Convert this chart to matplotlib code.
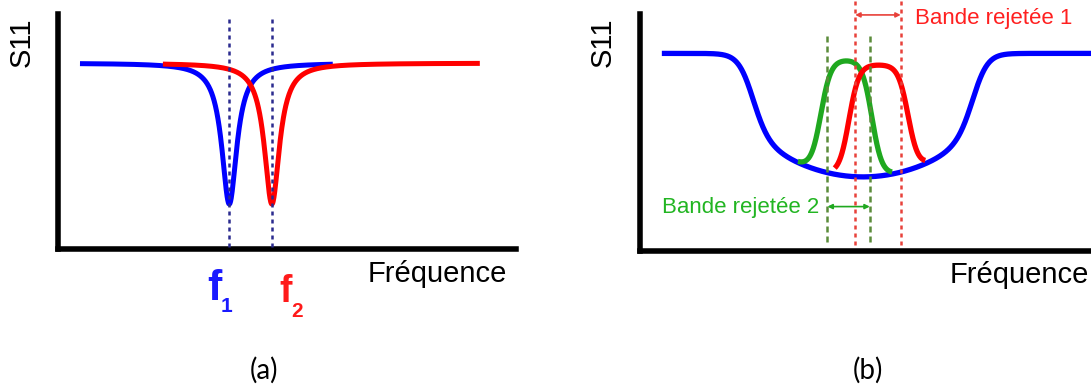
import numpy as np
import matplotlib
matplotlib.use("Agg")
import matplotlib.pyplot as plt

W, H = 1091, 387

# ---- panel (a): two resonances ----
res_freqs = [3.74, 4.67]          # f1, f2
res_spans = [(0.48, 6.0), (2.29, 9.21)]
res_colors = ["#0000ff", "#ff0000"]
res_labels = ["1", "2"]
res_level = 0.791                 # S11 off resonance
res_min = 0.191                   # S11 at resonance
res_width = 0.2

# ---- panel (b): wide band + two narrow responses ----
band_top = 0.832
band_bottom = 0.312
band_center = 4.9
band_half = 2.45
band_soft = 0.1685
band_curv = 0.0291
band_start = 0.48

notch_colors = ["#1fa81f", "#ff0000"]
notch_left = [3.97, 4.59]
notch_right = [5.10, 5.90]
notch_top = [0.806, 0.785]
notch_start = [3.47, 4.28]
notch_stop = [5.54, 6.27]
notch_soft = 0.11

band2_edges = [4.12, 5.05]        # Bande rejetee 2 (green)
band1_edges = [4.73, 5.73]        # Bande rejetee 1 (red)


def px(x, y):
    return x / W, 1 - y / H


def sig(u):
    return 1 / (1 + np.exp(-u))


def lorentz_dip(x, f0):
    return res_level - (res_level - res_min) / (1 + ((x - f0) / res_width) ** 2)


def wide_band(x):
    d = x - band_center
    s = sig((d + band_half) / band_soft) * sig((band_half - d) / band_soft)
    inner = band_bottom + band_curv * d ** 2
    return band_top * (1 - s) + inner * s


fig = plt.figure(figsize=(W / 100, H / 100), dpi=100)


def make_axes(left, top, right, bottom):
    ax = fig.add_axes([left / W, 1 - bottom / H, (right - left) / W, (bottom - top) / H])
    ax.set_xlim(0, 10)
    ax.set_ylim(0, 1)
    for side in ["top", "right"]:
        ax.spines[side].set_visible(False)
    for side in ["left", "bottom"]:
        ax.spines[side].set_linewidth(4)
    ax.set_xticks([])
    ax.set_yticks([])
    ax.patch.set_alpha(0)
    return ax


lab_font = dict(family="Liberation Sans", fontsize=21)

# ---------------- (a) ----------------
axa = make_axes(58, 14, 516, 249)
for f0, (x0, x1), c in zip(res_freqs, res_spans, res_colors):
    x = np.linspace(x0, x1, 800)
    axa.plot(x, lorentz_dip(x, f0), color=c, lw=3.6, solid_capstyle="butt", zorder=3)
for f0 in res_freqs:
    axa.plot([f0, f0], [0.01, 0.983], color="#2b2b8f", lw=1.8,
             linestyle=(0, (1.6, 1.6)), zorder=5)

fig.text(*px(22, 42), "S11", rotation=90, ha="center", va="center", **lab_font)
fig.text(*px(368, 282), "Fréquence", ha="left", va="baseline", **lab_font)

# f1 / f2 labels
fig.text(*px(207, 300), "f", color="#1a1aff", fontsize=31, fontweight="bold",
         family="Liberation Sans", ha="left", va="baseline")
fig.text(*px(221, 312), res_labels[0], color="#1a1aff", fontsize=15, fontweight="bold",
         family="Liberation Sans", ha="left", va="baseline")
fig.text(*px(279, 302), "f", color="#ff1a1a", fontsize=27, fontweight="bold",
         family="Liberation Sans", ha="left", va="baseline")
fig.text(*px(291, 317), res_labels[1], color="#ff1a1a", fontsize=15, fontweight="bold",
         family="Liberation Sans", ha="left", va="baseline")

# ---------------- (b) ----------------
axb = make_axes(640, 13.5, 1095, 251)
x = np.linspace(band_start, 10.2, 1200)
axb.plot(x, wide_band(x), color="#0000ff", lw=3.8, solid_capstyle="butt", zorder=2,
         clip_on=False)
for c, l, r, t, x0, x1 in zip(notch_colors, notch_left, notch_right, notch_top,
                              notch_start, notch_stop):
    x = np.linspace(x0, x1, 600)
    base = wide_band(x)
    s = sig((x - l) / notch_soft) * sig((r - x) / notch_soft)
    axb.plot(x, base + (t - base) * s, color=c, lw=3.8, solid_capstyle="butt", zorder=3)

for xe in band2_edges:
    axb.plot([xe, xe], [0.038, 0.909], color="#5b8c3a", lw=1.8,
             linestyle=(0, (2.4, 1.6)), zorder=5)
for xe in band1_edges:
    axb.plot([xe, xe], [0.025, 1.06], color="#e8413a", lw=1.8,
             linestyle=(0, (1.6, 1.6)), zorder=5, clip_on=False)

arrow = dict(arrowstyle="<|-|>", lw=1.2, mutation_scale=7, shrinkA=0, shrinkB=0)
axb.annotate("", xy=(band1_edges[1], 0.994), xytext=(band1_edges[0], 0.994),
             arrowprops=dict(color="#e8413a", **arrow), annotation_clip=False)
axb.annotate("", xy=(band2_edges[1], 0.187), xytext=(band2_edges[0], 0.187),
             arrowprops=dict(color="#1fa81f", **arrow))

axb.text(6.05, 0.956, "Bande rejetée 1", color="#ff2020", fontsize=16,
         family="Liberation Sans", ha="left", va="baseline", clip_on=False)
axb.text(3.95, 0.16, "Bande rejetée 2", color="#22b522", fontsize=16,
         family="Liberation Sans", ha="right", va="baseline")

fig.text(*px(603, 42), "S11", rotation=90, ha="center", va="center", **lab_font)
fig.text(*px(950, 283), "Fréquence", ha="left", va="baseline", **lab_font)

# captions
fig.text(*px(264, 370), "(a)", ha="center", va="center", family="Lato", fontsize=20)
fig.text(*px(868, 370), "(b)", ha="center", va="center", family="Lato", fontsize=20)

fig.savefig("out.png", dpi=100)
